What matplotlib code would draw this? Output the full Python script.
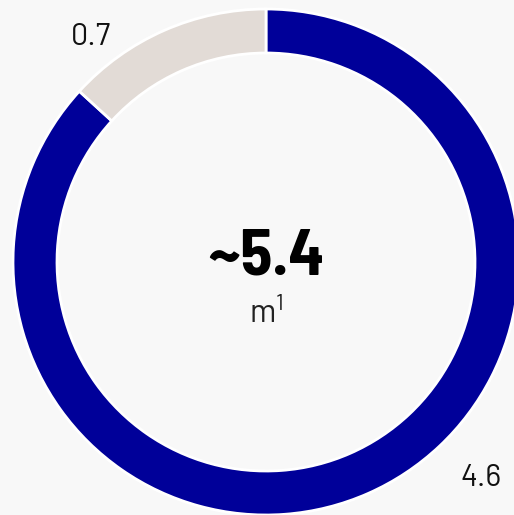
import matplotlib
matplotlib.use("Agg")
import matplotlib.pyplot as plt

# donut data
labels = ["4.6", "0.7"]
values = [4.6, 0.7]
colors = ["#000099", "#e2dbd6"]
total_label = "~5.4"
unit_label = r"m$^{\mathrm{1}}$"

fam = ["Barlow", "DejaVu Sans"]
plt.rcParams["mathtext.fontset"] = "custom"
plt.rcParams["mathtext.rm"] = "Barlow"

W, H = 514, 515
cx, cy = 266, 262
R, ring = 253, 44

fig = plt.figure(figsize=(W / 100, H / 100), dpi=100, facecolor="#f8f8f8")
ax = fig.add_axes([0, 0, 1, 1])
ax.set_facecolor("#f8f8f8")

ax.pie(values, colors=colors, startangle=90, counterclock=False,
       radius=R, center=(0, 0),
       wedgeprops=dict(width=ring, edgecolor="white", linewidth=2))

ax.set_xlim(-cx, W - cx)
ax.set_ylim(-(H - cy), cy)
ax.set_aspect("equal")
ax.axis("off")

ax.text(0, 4, total_label, ha="center", va="center", fontsize=47,
        fontweight="bold", family=["Barlow Semi Condensed", "DejaVu Sans"],
        color="black")
ax.text(0, -52, unit_label, ha="center", va="center", fontsize=23,
        family=fam, color="#222222")

# value labels outside the ring
ax.text(91 - cx, cy - 37, labels[1], ha="center", va="center", fontsize=22,
        family=fam, color="#111111")
ax.text(481 - cx, cy - 478, labels[0], ha="center", va="center", fontsize=22,
        family=fam, color="#111111")

fig.savefig("out.png", dpi=100, facecolor=fig.get_facecolor())
